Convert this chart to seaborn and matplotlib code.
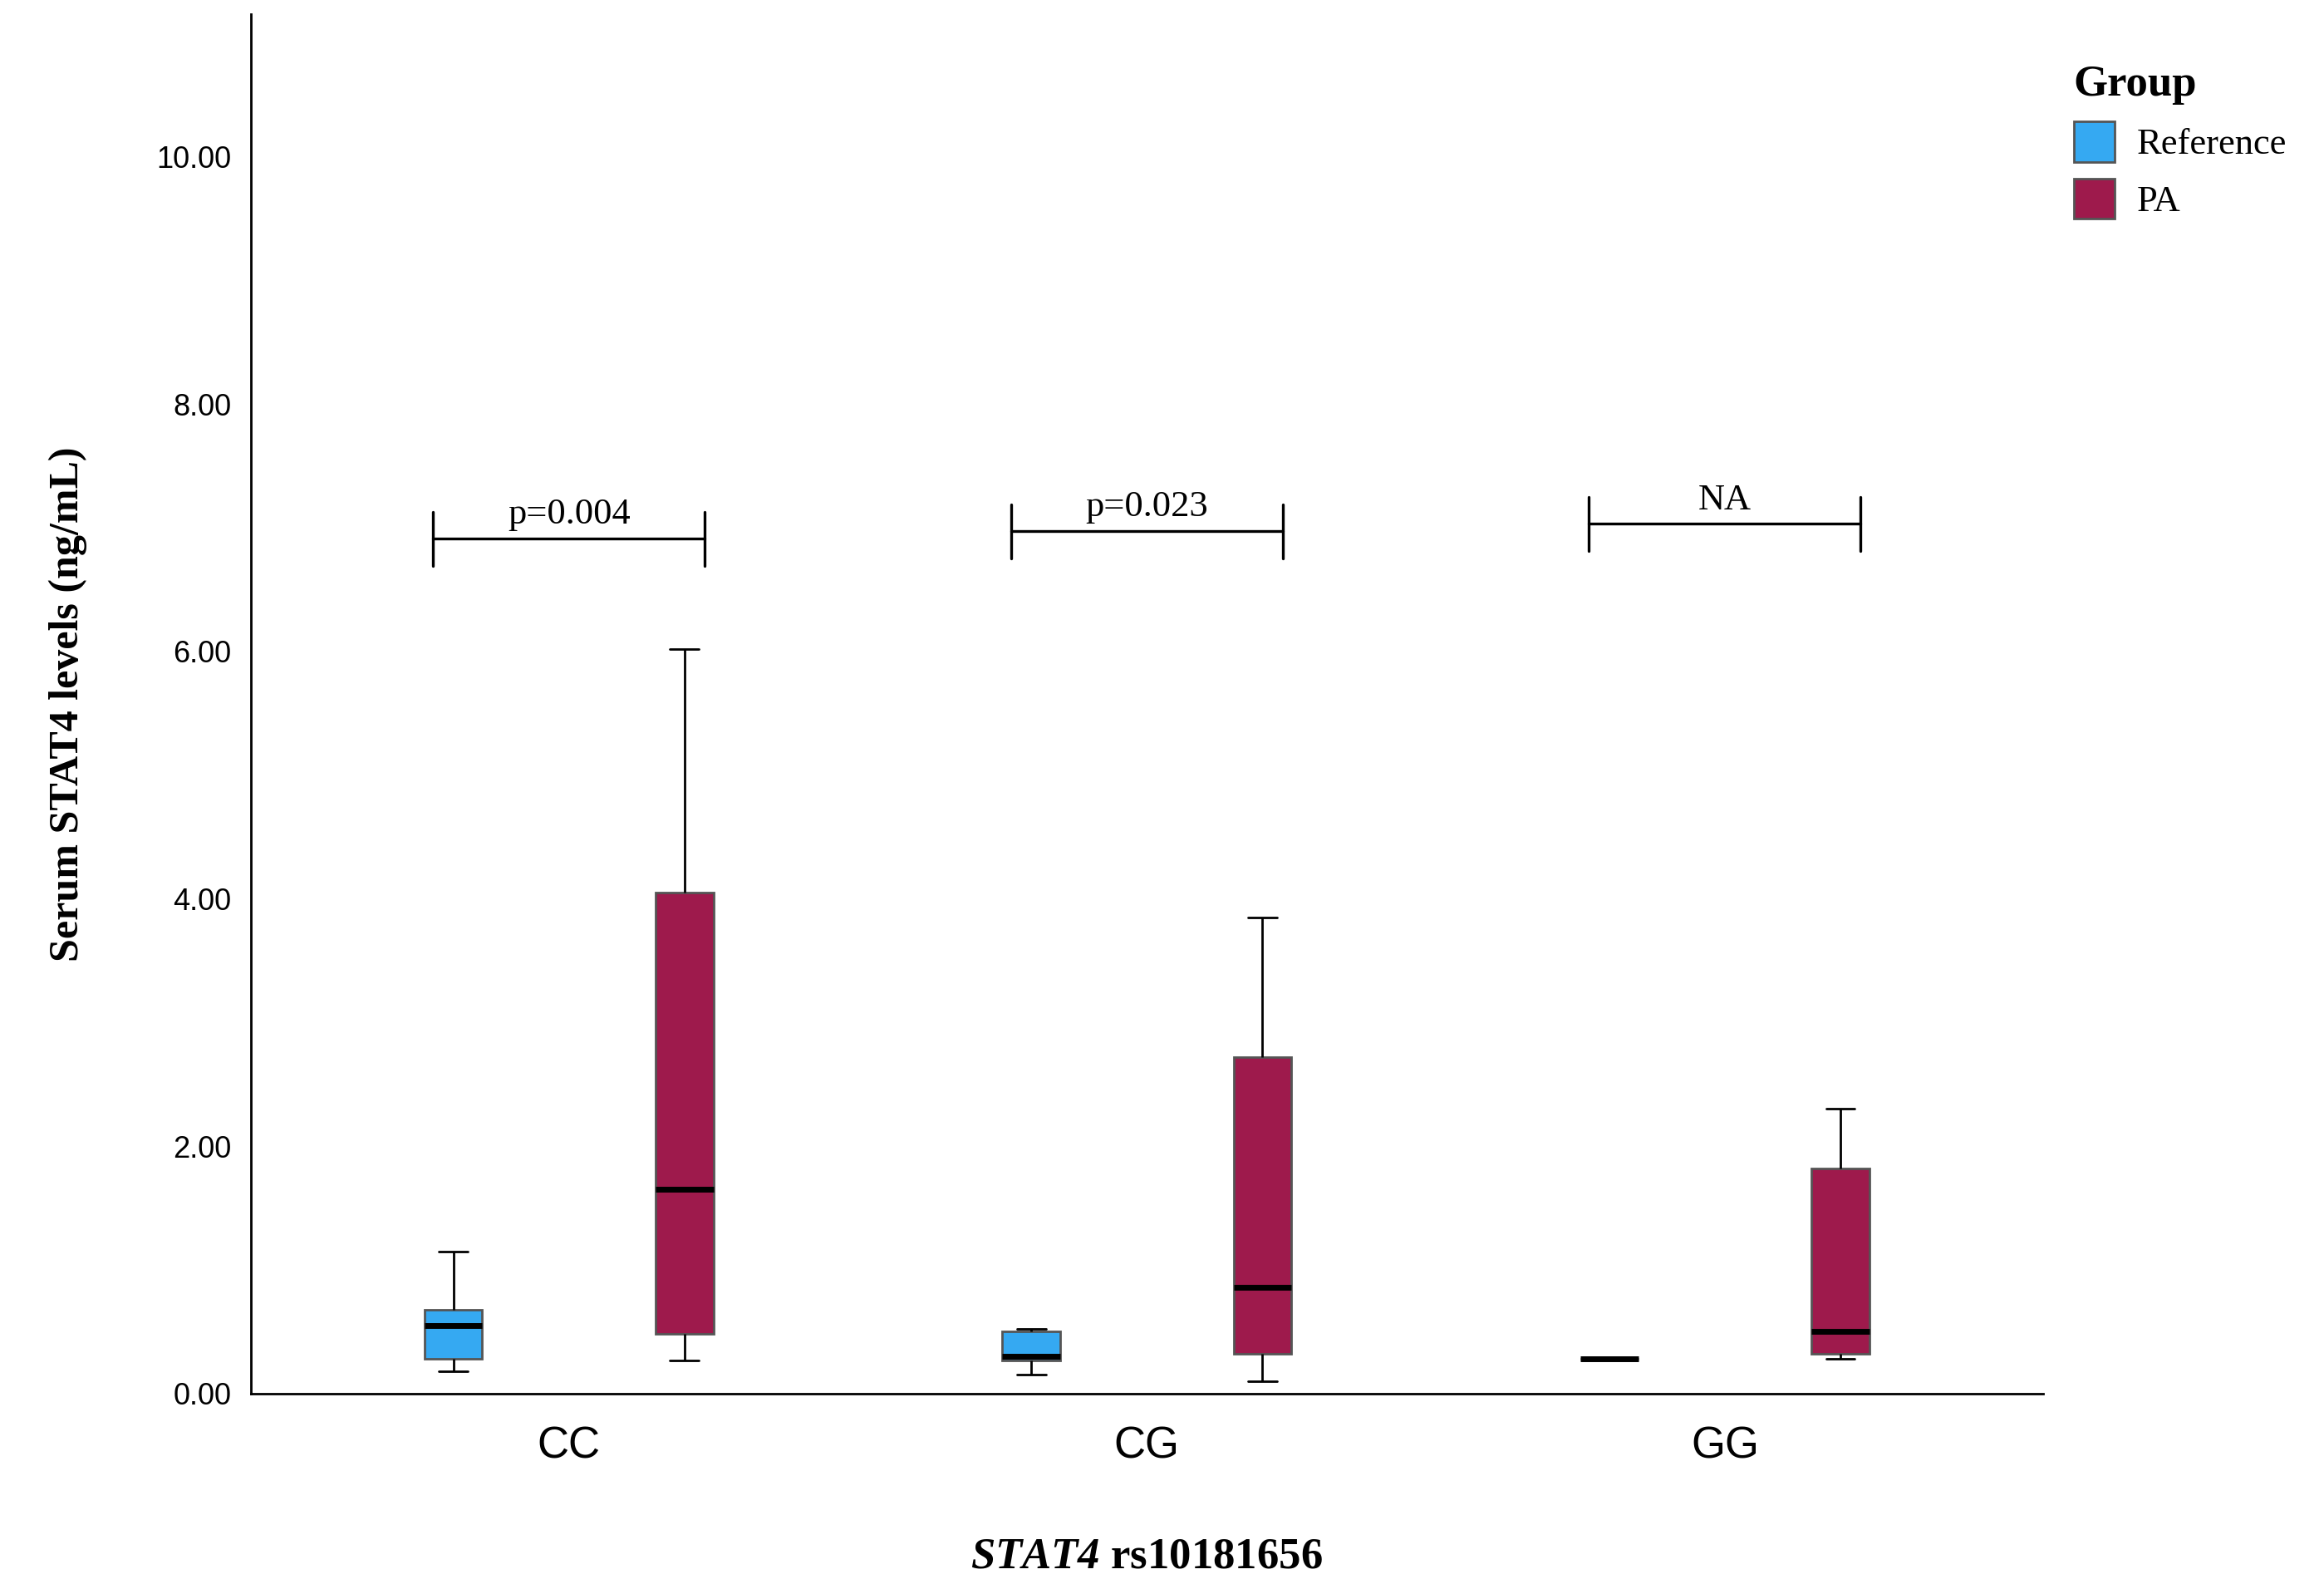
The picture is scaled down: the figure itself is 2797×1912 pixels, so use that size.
import matplotlib
matplotlib.use("Agg")
import matplotlib.pyplot as plt
import seaborn as sns
import pandas as pd
from matplotlib.patches import Patch

genotypes = ["CC", "CG", "GG"]
groups = ["Reference", "PA"]
# five-number summaries (min, q1, median, q3, max)
summ = {
    ("CC", "Reference"): [0.18, 0.28, 0.55, 0.68, 1.15],
    ("CC", "PA"): [0.27, 0.48, 1.65, 4.05, 6.02],
    ("CG", "Reference"): [0.15, 0.27, 0.30, 0.50, 0.52],
    ("CG", "PA"): [0.10, 0.32, 0.86, 2.72, 3.85],
    ("GG", "Reference"): [0.27, 0.28, 0.28, 0.28, 0.29],
    ("GG", "PA"): [0.28, 0.32, 0.50, 1.82, 2.30],
}
pvals = ["p=0.004", "p=0.023", "NA"]
bracket_y = [6.91, 6.97, 7.03]
colors = {"Reference": "#35A9F2", "PA": "#9E1A4C"}

rows = []
for (g, grp), vals in summ.items():
    for v in vals:
        rows.append({"Genotype": g, "Group": grp, "val": v})
df = pd.DataFrame(rows)

sns.set_style("white")
plt.rcParams["text.color"] = "black"
plt.rcParams["axes.labelcolor"] = "black"
plt.rcParams["xtick.color"] = "black"
plt.rcParams["ytick.color"] = "black"
plt.rcParams["mathtext.fontset"] = "custom"
plt.rcParams["mathtext.bfit"] = "Liberation Serif:bold:italic"
plt.rcParams["mathtext.bf"] = "Liberation Serif:bold"

fig = plt.figure(figsize=(13.985, 9.56), dpi=200)
ax = fig.add_axes([0.108, 0.123, 0.771, 0.868])
sns.boxplot(data=df, x="Genotype", y="val", hue="Group", order=genotypes,
            hue_order=groups, palette=colors, saturation=1, width=0.8, gap=0.75,
            whis=1.5, linewidth=1.0, linecolor="#555555", ax=ax, legend=False,
            medianprops=dict(color="black", linewidth=2.5),
            whiskerprops=dict(color="black"), capprops=dict(color="black"),
            showfliers=False)
ax.set_ylim(0, 11.15)
ax.set_xlim(-0.55, 2.55)
ax.set_yticks([0, 2, 4, 6, 8, 10])
ax.set_yticklabels([f"{t:.2f}" for t in [0, 2, 4, 6, 8, 10]],
                   fontsize=13, family="Liberation Sans")
ax.set_xticklabels(genotypes, fontsize=19, family="Liberation Sans")
for s in ["top", "right"]:
    ax.spines[s].set_visible(False)
for s in ["left", "bottom"]:
    ax.spines[s].set_color("black")
    ax.spines[s].set_linewidth(1.0)
ax.tick_params(axis="y", length=5, color="black")
ax.tick_params(axis="x", length=0, pad=14)
ax.set_ylabel("Serum STAT4 levels (ng/mL)", fontsize=18, fontweight="bold",
              family="Liberation Serif", labelpad=30)
ax.set_xlabel(r"$\bfit{STAT4}$ rs10181656", fontsize=19, fontweight="bold",
              family="Liberation Serif", labelpad=30)

for i, (p, y) in enumerate(zip(pvals, bracket_y)):
    x0, x1 = i - 0.235, i + 0.235
    ax.plot([x0, x1], [y, y], color="black", lw=1.2)
    ax.plot([x0, x0], [y - 0.22, y + 0.22], color="black", lw=1.2)
    ax.plot([x1, x1], [y - 0.22, y + 0.22], color="black", lw=1.2)
    ax.text(i, y + 0.06, p, ha="center", va="bottom", fontsize=16,
            family="Liberation Serif")

handles = [Patch(facecolor=colors[g], edgecolor="#555555", label=g) for g in groups]
leg = fig.legend(handles=handles, title="Group", loc="upper left",
                 bbox_to_anchor=(0.878, 0.98), frameon=False,
                 prop={"family": "Liberation Serif", "size": 16},
                 handlelength=1.1, handleheight=1.3, handletextpad=0.6,
                 labelspacing=0.45, alignment="left")
leg.get_title().set_fontfamily("Liberation Serif")
leg.get_title().set_fontweight("bold")
leg.get_title().set_fontsize(19)
fig.savefig("out.png", dpi=200, facecolor="white")
